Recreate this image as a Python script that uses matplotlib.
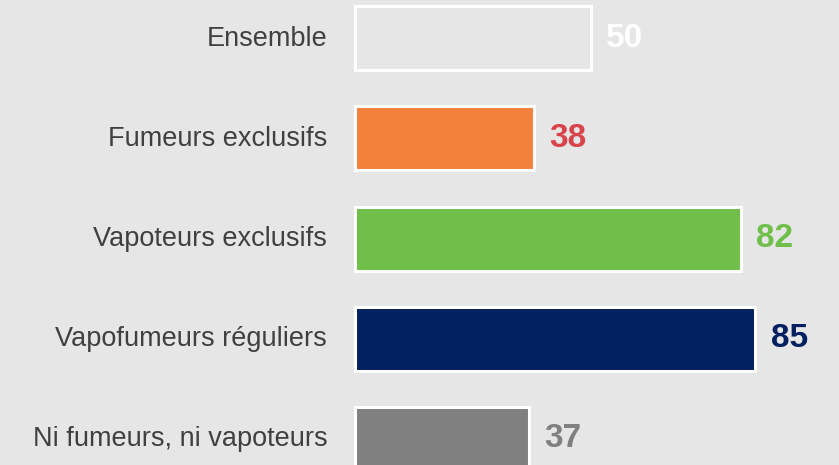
import matplotlib.pyplot as plt

# données
categories = ["Ensemble", "Fumeurs exclusifs", "Vapoteurs exclusifs",
              "Vapofumeurs réguliers", "Ni fumeurs, ni vapoteurs"]
values = [50, 38, 82, 85, 37]
bar_colors = ["#e6e6e6", "#f3803d", "#70bf4b", "#00205f", "#808080"]
value_colors = ["#ffffff", "#d9444b", "#70bf4b", "#00205f", "#808080"]

bg = "#e6e6e6"
W, H = 839, 465
fig = plt.figure(figsize=(W / 100, H / 100), dpi=100)
fig.patch.set_facecolor(bg)
ax = fig.add_axes([0, 0, 1, 1])
ax.set_facecolor(bg)

px = 4.71  # pixels par unité
x0 = 355
ax.set_xlim(-x0 / px, (W - x0) / px)
ax.set_ylim(4.265, -0.385)

ypos = range(len(categories))
ax.barh(ypos, values, height=0.64, color=bar_colors,
        edgecolor="white", linewidth=2.2)

for y, cat, v, c in zip(ypos, categories, values, value_colors):
    ax.annotate(cat, (0, y), xytext=(-20, 0), textcoords="offset points",
                ha="right", va="center", fontsize=19.5, color="#404040",
                family="Liberation Sans")
    ax.annotate(str(v), (v, y), xytext=(11, 0), textcoords="offset points",
                ha="left", va="center", fontsize=24, fontweight="bold",
                color=c, family="Liberation Sans")

ax.axis("off")
fig.savefig("out.png", dpi=100, facecolor=bg)
